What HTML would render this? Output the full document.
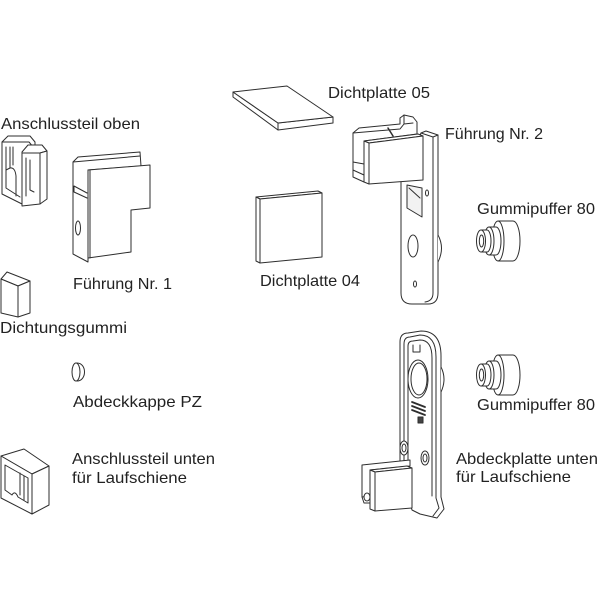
<!DOCTYPE html>
<html><head><meta charset="utf-8">
<style>
html,body{margin:0;padding:0;background:#fff;}
svg{display:block;}
text{font-family:"Liberation Sans",Arial,sans-serif;font-size:16px;fill:#222;}
</style></head><body>
<svg width="600" height="600" viewBox="0 0 600 600" xmlns="http://www.w3.org/2000/svg">
<g fill="#fff" stroke="#2e2e2e" stroke-width="1" stroke-linejoin="round" stroke-linecap="round">

<!-- Anschlussteil oben -->
<path d="M2,142 L8,136 L30,136 L35,142 L35,150 L24,152 L24,205 L2,194 Z"/>
<path d="M2,142 L29,142 L34,148" fill="none"/>
<path d="M6,147 L6,188 L20,197" fill="none"/>
<path d="M10,147 L10,168 Q15,167 16,176 L16,196" fill="none"/>
<path d="M6,170 L10,168 M13,147 L13,165" fill="none"/>
<path d="M22,152 L28,145 L42,145 L47,151 L40,153 L22,153 Z"/>
<path d="M22,153 L40,153 L40,204 L22,206 Z"/>
<path d="M40,153 L47,151 L47,199 L40,204 Z"/>
<path d="M26,158 L26,196 M30,160 L30,190 L34,192" fill="none"/>

<!-- Führung Nr. 1 -->
<path d="M73,162 L78,157 L140,152 L141,166 L88,170 L88,262 L73,254 Z"/>
<path d="M73,162 L140,156" fill="none"/>
<path d="M74,186 L87,193 M74,192 L87,198 M74,186 L74,192" fill="none"/>
<ellipse cx="78" cy="228" rx="2.5" ry="7"/>
<path d="M88,170 L150,165 L150,208 L131,210 L131,252 L88,258 Z"/>
<path d="M90,170 L90,258" fill="none"/>

<!-- Dichtungsgummi -->
<path d="M1,279 L7,272 L30,281 L18,286 Z"/>
<path d="M1,279 L18,286 L18,317 L1,313 Z"/>
<path d="M18,286 L30,281 L30,313 L18,317 Z"/>

<!-- Abdeckkappe PZ -->
<path d="M77,363 C87,363 87,381 77,381" />
<ellipse cx="76" cy="372" rx="4" ry="9"/>

<!-- Anschlussteil unten -->
<path d="M1,456 L24,449 L49,466 L32,474 Z"/>
<path d="M1,456 L32,474 L32,514 L1,498 Z"/>
<path d="M5,465 L28,478 L28,503 L18,497 Q15,490 12,495 L5,490 Z"/>
<path d="M20,473 L20,495 M24,476 L24,500" fill="none"/>
<path d="M32,474 L49,466 L49,505 L32,514 Z"/>

<!-- Dichtplatte 05 -->
<path d="M233,92 L233,97 L278,130 L333,123 L333,117 L278,123 Z"/>
<path d="M233,92 L287,86 L333,117 L278,123 Z"/>
<path d="M278,123 L278,130" fill="none"/>

<!-- Dichtplatte 04 -->
<path d="M256,197 L318,191 L322,193 L260,199 Z"/>
<path d="M256,197 L260,199 L260,263 L256,261 Z"/>
<path d="M260,199 L322,193 L322,257 L260,263 Z"/>

<!-- Führung Nr. 2 : plate -->
<path d="M421,133 L426,131 L438,135 L438,293 Q438,304 428,304 L412,304 Q401,304 401,293 L401,180 Z"/>
<path d="M421,133 L433,137 L438,135 M433,137 L433,293 Q433,301 425,302" fill="none"/>
<path d="M438,235 Q445,248 438,262" />
<path d="M407,185 L422,188 L422,217 L407,208 Z" fill="#f2f2f2"/>
<path d="M409,188 L420,198" fill="none"/>
<ellipse cx="427" cy="193" rx="1.5" ry="3"/>
<ellipse cx="413" cy="246" rx="5" ry="11"/>
<ellipse cx="415" cy="284" rx="1.5" ry="3"/>
<!-- cap -->
<path d="M353,133 L359,128 L400,124 L400,118 L404,115 L413,117 L417,122 L417,134 L364,141 L364,182 L353,177 Z"/>
<path d="M353,133 L400,129 L404,124 L413,123 M404,115 L404,124" fill="none"/>
<path d="M388,128 L393,136" fill="none" stroke-width="1.5"/>
<path d="M353,162 L364,164 M353,170 L364,175" fill="none"/>
<path d="M364,141 L418,134 L423,136 L369,143 Z"/>
<path d="M364,141 L369,143 L369,184 L364,182 Z"/>
<path d="M369,143 L423,136 L423,180 L369,184 Z"/>

<!-- Gummipuffer top -->
<g id="gp">
<path d="M498,221 L513,221 A7,20 0 0 1 513,261 L498,261 Z"/>
<ellipse cx="498" cy="241" rx="6" ry="20"/>
<path d="M489,227 L496,227 A5,14 0 0 1 496,255 L489,255 Z"/>
<ellipse cx="489" cy="241" rx="5" ry="14"/>
<path d="M481,230 L487,230 A4,11 0 0 1 487,252 L481,252 Z"/>
<ellipse cx="481" cy="241" rx="4.5" ry="11"/>
<ellipse cx="481.5" cy="241" rx="2.2" ry="6"/>
</g>
<use href="#gp" transform="translate(0,134)"/>

<!-- Abdeckplatte unten -->
<path d="M400,342 Q400,333 408,333 L421,331 Q441,331 441,356 L441,497 L444,509 L437,518 L420,514 L412,510 L400,470 Z"/>
<path d="M404,470 L404,344 Q404,337 410,337 L420,335 Q436,335 436,357 L436,498 L439,508 L433,516" fill="none"/>
<path d="M408,468 L408,346 Q408,341 413,341 L420,340 Q432,340 432,358 L432,496" fill="none"/>
<path d="M441,367 Q447,379 441,392"/>
<path d="M413,345 L413,352 L420,352 L420,345" fill="none"/>
<ellipse cx="418" cy="379" rx="10" ry="19"/>
<ellipse cx="419" cy="379" rx="8" ry="16"/>
<path d="M412,402 L425,407 M412,406 L425,411 M412,410 L425,415" fill="none" stroke-width="1.8"/>
<rect x="418" y="417" width="5" height="6" fill="#444"/>
<ellipse cx="404" cy="448" rx="4" ry="7"/>
<ellipse cx="404" cy="448" rx="2" ry="4"/>
<ellipse cx="425" cy="458" rx="4" ry="7"/>
<ellipse cx="425" cy="458" rx="2" ry="4"/>
<!-- clip -->
<path d="M362,465 L410,460 L410,466 L370,470 L370,496 L362,497 Z"/>
<path d="M370,470 L407,466 L412,468 L375,472 Z"/>
<path d="M370,470 L375,472 L375,511 L370,509 Z"/>
<path d="M375,472 L412,468 L412,508 L375,511 Z"/>
<ellipse cx="367" cy="497" rx="3" ry="4"/>
<path d="M362,497 L364,503 L370,503" fill="none"/>
</g>

<g>
<text x="1" y="129" textLength="139" lengthAdjust="spacingAndGlyphs">Anschlussteil oben</text>
<text x="73" y="289" textLength="99" lengthAdjust="spacingAndGlyphs">Führung Nr. 1</text>
<text x="0" y="333" textLength="127" lengthAdjust="spacingAndGlyphs">Dichtungsgummi</text>
<text x="73" y="407" textLength="129" lengthAdjust="spacingAndGlyphs">Abdeckkappe PZ</text>
<text x="72" y="464" textLength="143" lengthAdjust="spacingAndGlyphs">Anschlussteil unten</text>
<text x="72" y="483" textLength="115" lengthAdjust="spacingAndGlyphs">für Laufschiene</text>
<text x="328" y="98" textLength="102" lengthAdjust="spacingAndGlyphs">Dichtplatte 05</text>
<text x="260" y="286" textLength="100" lengthAdjust="spacingAndGlyphs">Dichtplatte 04</text>
<text x="445" y="139" textLength="98" lengthAdjust="spacingAndGlyphs">Führung Nr. 2</text>
<text x="477" y="214" textLength="118" lengthAdjust="spacingAndGlyphs">Gummipuffer 80</text>
<text x="477" y="410" textLength="118" lengthAdjust="spacingAndGlyphs">Gummipuffer 80</text>
<text x="456" y="464" textLength="142" lengthAdjust="spacingAndGlyphs">Abdeckplatte unten</text>
<text x="456" y="482" textLength="115" lengthAdjust="spacingAndGlyphs">für Laufschiene</text>
</g>
</svg>
</body></html>
